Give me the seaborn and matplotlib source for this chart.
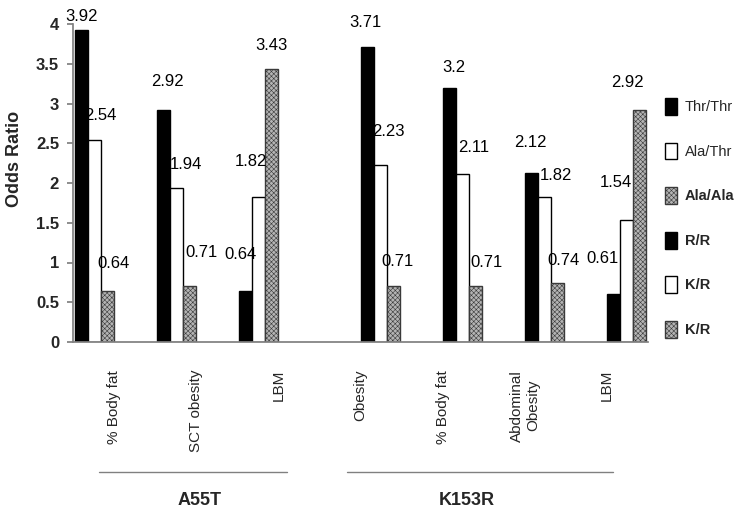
import numpy as np
import pandas as pd
import matplotlib
matplotlib.use("Agg")
import matplotlib.pyplot as plt
import matplotlib.patches as mpatches
import seaborn as sns

# A55T genotypes
a55t_labels = ["% Body fat", "SCT obesity", "LBM"]
thr_thr = [3.92, 2.92, 0.64]
ala_thr = [2.54, 1.94, 1.82]
ala_ala = [0.64, 0.71, 3.43]

# K153R genotypes
k153r_labels = ["Obesity", "% Body fat", "Abdominal\nObesity", "LBM"]
r_r = [3.71, 3.2, 2.12, 0.61]
k_r = [2.23, 2.11, 1.82, 1.54]
k_r_hatch = [0.71, 0.71, 0.74, 2.92]

legend_labels = ["Thr/Thr", "Ala/Thr", "Ala/Ala", "R/R", "K/R", "K/R"]
group_names = ["A55T", "K153R"]

# hand placed value labels (pixels: dx from bar centre, dy above bar top)
nudge_a55t = [[(0, 14), (4, 28), (-5, 37)],
              [(6, 25), (9, 23), (-8, 36)],
              [(6, 28), (12, 33), (0, 24)]]
nudge_k153r = [[(-2, 25), (5, 20), (-1, 31), (-11, 35)],
               [(8, 33), (12, 27), (12, 22), (-11, 37)],
               [(4, 24), (11, 23), (6, 23), (-12, 27)]]

keys = ["s0", "s1", "s2", "s3", "s4", "s5"]
colors = ["black", "white", "#b4b4b4", "black", "white", "#b4b4b4"]
hatched = [False, False, True, False, False, True]

sns.set_theme(style="white")
plt.rcParams["font.family"] = ["Liberation Sans Narrow", "Liberation Sans", "DejaVu Sans"]
plt.rcParams["hatch.linewidth"] = 0.4

series_vals = [thr_thr, ala_thr, ala_ala, r_r, k_r, k_r_hatch]
rows = []
for j, vals in enumerate(series_vals):
    start = 0 if j < 3 else len(a55t_labels)
    for i, v in enumerate(vals):
        rows.append({"slot": start + i, "key": keys[j], "value": v})
df = pd.DataFrame(rows)
categories = a55t_labels + k153r_labels

fig, ax = plt.subplots(figsize=(7.38, 5.13), dpi=100)
fig.subplots_adjust(left=73 / 738, right=648 / 738, bottom=1 - 342 / 513, top=1 - 24 / 513)

sns.barplot(data=df, x="slot", y="value", hue="key", hue_order=keys,
            palette=dict(zip(keys, colors)), width=0.95, gap=0, dodge=True,
            saturation=1, edgecolor="black", linewidth=1, errorbar=None,
            legend=False, ax=ax)

for j, cont in enumerate(ax.containers):
    nudges = nudge_a55t[j] if j < 3 else nudge_k153r[j - 3]
    for bar, v, (dx, dy) in zip(cont, series_vals[j], nudges):
        if hatched[j]:
            bar.set_hatch("xxxxxxx")
            bar.set_edgecolor("#3a3a3a")
        ax.annotate(f"{v:g}", xy=(bar.get_x() + bar.get_width() / 2, bar.get_height()),
                    xytext=(dx, dy), textcoords="offset pixels", ha="center", va="center",
                    fontsize=12, color="black")

# axes
ax.set_ylim(0, 4)
ax.set_xlim(-0.5, 6.5)
yt = np.arange(0, 4.01, 0.5)
ax.set_yticks(yt)
ax.set_yticklabels([f"{t:g}" for t in yt], fontsize=12, fontweight="bold")
ax.set_xticks(range(len(categories)))
ax.set_xticklabels(categories, rotation=90, fontsize=11, family="Liberation Sans")
ax.set_xticks(np.arange(-0.5, len(categories), 1), minor=True)
ax.tick_params(axis="x", which="major", length=0, pad=20)
ax.tick_params(axis="x", which="minor", length=6, color="#808080", direction="out")
ax.tick_params(axis="y", length=4, color="#808080", direction="out", pad=6, left=True)
for s in ["top", "right"]:
    ax.spines[s].set_visible(False)
ax.spines["bottom"].set_color("#808080")
ax.spines["left"].set_color("#808080")
ax.set_xlabel("")
ax.set_ylabel("Odds Ratio", fontsize=13, fontweight="bold", family="Liberation Sans")
ax.yaxis.set_label_coords(-0.087, 0.575)

# group brackets below the category labels
trans = ax.get_xaxis_transform()
for name, x0, x1, xc in zip(group_names, [-0.18, 2.84], [2.11, 6.07], [1.04, 4.29]):
    ax.plot([x0, x1], [-0.409, -0.409], color="#808080", lw=1, transform=trans, clip_on=False)
    ax.text(xc, -0.497, name, transform=trans, ha="center", va="center",
            fontsize=13, fontweight="bold")

handles = [mpatches.Patch(facecolor=c, edgecolor="#3a3a3a" if h else "black",
                          hatch="xxxxxxx" if h else None, linewidth=1)
           for c, h in zip(colors, hatched)]
leg = fig.legend(handles, legend_labels, loc="upper left", bbox_to_anchor=(665 / 738, 1 - 98 / 513),
                 frameon=False, handlelength=0.85, handleheight=1.4, labelspacing=1.9,
                 handletextpad=0.5, fontsize=10.5, borderaxespad=0, borderpad=0)
for t in leg.get_texts()[2:]:
    t.set_fontweight("bold")

fig.savefig("out.png", dpi=100)
